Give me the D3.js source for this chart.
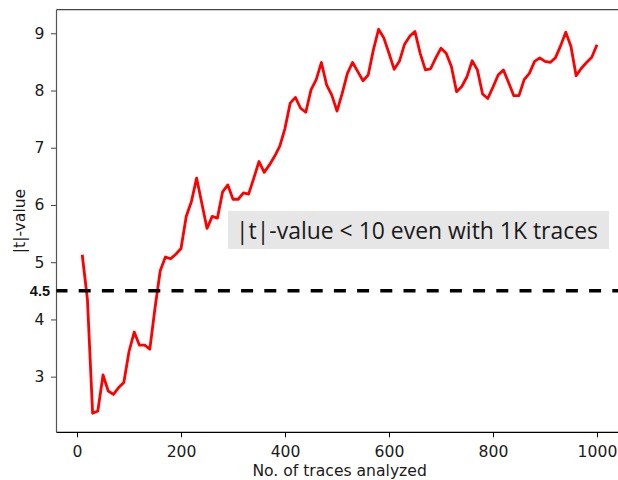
<!DOCTYPE html>
<html>
<head>
<meta charset="utf-8">
<script src="https://cdn.jsdelivr.net/npm/d3@7"></script>
<style>
  body { margin: 0; background: #fff; }
  svg { display: block; }
</style>
</head>
<body>
<script>
(function(){

  //pseudo-global variables
  var traces = d3.range(10, 1001, 10); //no. of traces, one point every 10
  var tValues = [
    5.13, 4.35, 2.36, 2.40, 3.03, 2.75, 2.69, 2.81, 2.90, 3.44,
    3.78, 3.55, 3.55, 3.48, 4.20, 4.85, 5.09, 5.06, 5.14, 5.24,
    5.80, 6.06, 6.47, 6.03, 5.59, 5.80, 5.77, 6.23, 6.35, 6.10,
    6.10, 6.21, 6.19, 6.47, 6.76, 6.57, 6.70, 6.85, 7.03, 7.34,
    7.78, 7.88, 7.69, 7.62, 8.01, 8.19, 8.49, 8.10, 7.92, 7.64,
    7.95, 8.30, 8.49, 8.33, 8.17, 8.27, 8.71, 9.07, 8.92, 8.65,
    8.37, 8.51, 8.81, 8.95, 9.03, 8.65, 8.36, 8.38, 8.57, 8.74,
    8.65, 8.42, 7.98, 8.07, 8.24, 8.52, 8.36, 7.94, 7.86, 8.06,
    8.27, 8.36, 8.14, 7.91, 7.91, 8.19, 8.30, 8.51, 8.57, 8.51,
    8.49, 8.57, 8.78, 9.02, 8.77, 8.26, 8.39, 8.49, 8.58, 8.80
  ];
  var xTicks = [0, 200, 400, 600, 800, 1000];
  var yTicks = [3, 4, 5, 6, 7, 8, 9];
  var threshold = 4.5;
  var thresholdLabel = "4.5";
  var noteText = "|t|-value < 10 even with 1K traces";

  window.onload = drawChart();

  function drawChart(){
    var width = 618,
        height = 480;

    var svg = d3.select("body")
      .append("svg")
      .attr("width", width)
      .attr("height", height);

    //axes box (right side runs past the picture edge)
    var left = 56.5, top = 9.7, bottom = 432.3, right = 622.7;

    var x = d3.scaleLinear()
      .domain([-39.5, 1049.5])
      .range([left, right]);

    var y = d3.scaleLinear()
      .domain([2.028, 9.412])
      .range([bottom, top]);

    var font = "'DejaVu Sans', sans-serif";
    var fontSize = "15.6px";

    //x axis
    var xAxis = svg.append("g")
      .attr("transform", "translate(0," + bottom + ")")
      .call(d3.axisBottom(x).tickValues(xTicks).tickFormat(d3.format("d")).tickSize(5).tickPadding(8.3));
    xAxis.select(".domain").remove();
    xAxis.selectAll("text").style("font-family", font).style("font-size", fontSize).attr("fill", "#1a1a1a");
    xAxis.selectAll("line").attr("stroke", "#000").attr("stroke-width", 1);

    //y axis
    var yAxis = svg.append("g")
      .attr("transform", "translate(" + left + ",0)")
      .call(d3.axisLeft(y).tickValues(yTicks).tickFormat(d3.format("d")).tickSize(5.5).tickPadding(6.5));
    yAxis.select(".domain").remove();
    yAxis.selectAll("text").style("font-family", font).style("font-size", fontSize).attr("fill", "#1a1a1a");
    yAxis.selectAll("line").attr("stroke", "#444").attr("stroke-width", 1);

    //spines
    svg.append("line").attr("x1", left).attr("x2", width).attr("y1", top).attr("y2", top)
      .attr("stroke", "#444").attr("stroke-width", 1.2);
    svg.append("line").attr("x1", left).attr("x2", left).attr("y1", top).attr("y2", bottom)
      .attr("stroke", "#555").attr("stroke-width", 1.2);
    svg.append("line").attr("x1", left).attr("x2", width).attr("y1", bottom).attr("y2", bottom)
      .attr("stroke", "#000").attr("stroke-width", 1.2);

    //t-value line
    var line = d3.line()
      .x(function(d, i){ return x(traces[i]); })
      .y(function(d){ return y(d); });

    svg.append("path")
      .datum(tValues)
      .attr("fill", "none")
      .attr("stroke", "#ff0000")
      .attr("stroke-width", 2.8)
      .attr("stroke-linejoin", "round")
      .attr("d", line);

    //threshold line
    svg.append("line")
      .attr("x1", left).attr("x2", width)
      .attr("y1", y(threshold)).attr("y2", y(threshold))
      .attr("stroke", "#000")
      .attr("stroke-width", 3.5)
      .attr("stroke-dasharray", "12,11.2")
      .attr("stroke-dashoffset", 1);

    svg.append("text")
      .attr("x", 50)
      .attr("y", y(threshold))
      .attr("dy", "0.36em")
      .attr("text-anchor", "end")
      .style("font-family", "'Liberation Sans', Arial, sans-serif")
      .style("font-weight", "bold")
      .style("font-size", "14.5px")
      .attr("fill", "#111")
      .text(thresholdLabel);

    //note box
    svg.append("rect")
      .attr("x", 228).attr("y", 211)
      .attr("width", 381).attr("height", 38)
      .attr("fill", "#e6e6e6");

    svg.append("text")
      .attr("x", 236)
      .attr("y", 239)
      .attr("textLength", 362)
      .attr("lengthAdjust", "spacingAndGlyphs")
      .style("font-family", "'Open Sans', sans-serif")
      .style("font-size", "23px")
      .attr("fill", "#1a1a1a")
      .text(noteText);

    //axis labels
    svg.append("text")
      .attr("x", (left + right) / 2)
      .attr("y", 475.5)
      .attr("text-anchor", "middle")
      .style("font-family", font)
      .style("font-size", fontSize)
      .attr("fill", "#1a1a1a")
      .text("No. of traces analyzed");

    svg.append("text")
      .attr("transform", "translate(25," + ((top + bottom) / 2) + ") rotate(-90)")
      .attr("text-anchor", "middle")
      .style("font-family", font)
      .style("font-size", fontSize)
      .attr("fill", "#1a1a1a")
      .text("|t|-value");
  };
})();
</script>
</body>
</html>
